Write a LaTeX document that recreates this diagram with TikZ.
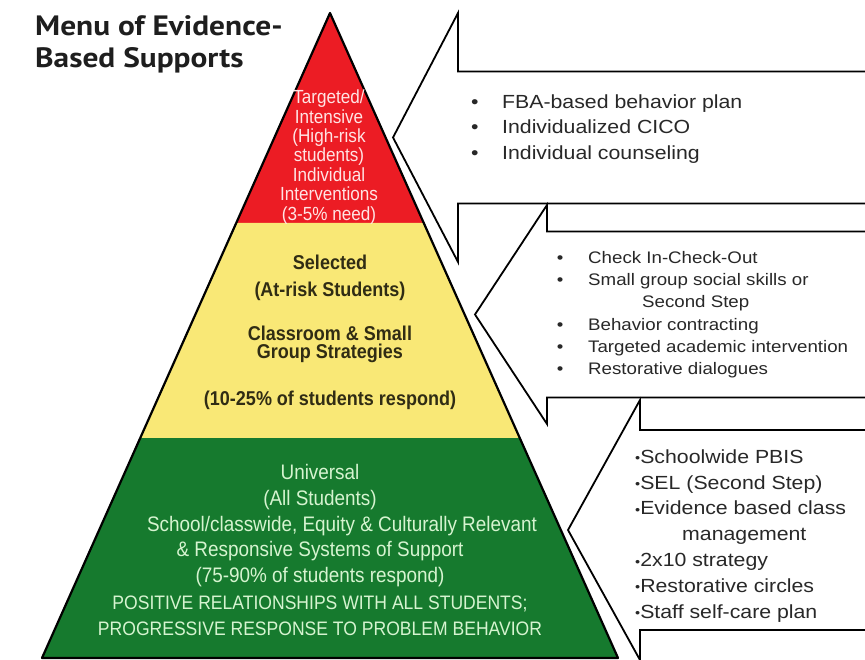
\documentclass[tikz,border=0pt]{standalone}
\usepackage{fontspec}
\newfontfamily\titlefont[FakeStretch=1.12]{PT Sans}
\newfontfamily\tierfont[FakeStretch=0.9]{Liberation Sans}
\newfontfamily\listfont[FakeStretch=1.12]{Liberation Sans}
\definecolor{tierred}{RGB}{236,28,36}
\definecolor{tieryellow}{RGB}{249,232,118}
\definecolor{tiergreen}{RGB}{22,122,46}
\definecolor{redink}{RGB}{255,228,228}
\definecolor{yellowink}{RGB}{48,44,20}
\definecolor{greenink}{RGB}{214,244,208}
\definecolor{listink}{RGB}{40,40,40}
\definecolor{titleink}{RGB}{30,30,30}
% left-pointing callout: tip (x,y), head base x : head half height : shaft half height
\def\callout(#1,#2)(#3:#4:#5){\draw[calloutline] (870,#2-#5) -- (#3,#2-#5) -- (#3,#2-#4) -- (#1,#2) -- (#3,#2+#4) -- (#3,#2+#5) -- (870,#2+#5);}
\def\smallbullet{{\fontsize{13}{13}\selectfont\raisebox{0.5pt}{•}}}
\tikzset{
  calloutline/.style={draw=black, fill=white, line width=1.8pt, line join=miter},
  tierlabel/.style={inner sep=0pt, align=center, anchor=base},
  listlabel/.style={inner sep=0pt, align=left, anchor=base west, text=listink},
}

\begin{document}
\begin{tikzpicture}[x=1pt,y=-1pt]
			%%%%% START %%%%%
			\useasboundingbox (0,0) rectangle (865,660);
			\fill[white] (0,0) rectangle (865,660);
			\clip (0,0) rectangle (865,660);
			
			% pyramid tiers
			\fill[tierred] (330,13) -- (423.77,223) -- (236.23,223) -- cycle;
			\fill[tieryellow] (236.23,223) -- (423.77,223) -- (519.77,438) -- (140.23,438) -- cycle;
			\fill[tiergreen] (140.23,438) -- (519.77,438) -- (618,658) -- (42,658) -- cycle;
			\draw[line width=2.2pt, line join=round] (330,13) -- (618,658) -- (42,658) -- cycle;
			
			% callouts
			\callout(393,137.5)(458:124.5:66)
			\callout(475,314.5)(547:109.5:83)
			\callout(568,530)(640:130:100)
			
			% (base anchor = last line)
			\node[font=\titlefont\bfseries\fontsize{28}{32}\selectfont, text=titleink, align=left, anchor=base west, inner sep=0pt] (menutitle) at (35,68) {Menu of Evidence-\\Based Supports};
			
			\node[tierlabel, text=redink, font=\tierfont\fontsize{19}{19.4}\selectfont] (targeted) at (329,220.2)
				{Targeted/\\Intensive\\(High-risk\\students)\\Individual\\Interventions\\(3-5\% need)};
			
			\node[tierlabel, text=yellowink, font=\tierfont\bfseries\fontsize{20}{27}\selectfont] (selected) at (330,297)
				{Selected\\(At-risk Students)};
			\node[tierlabel, text=yellowink, font=\tierfont\bfseries\fontsize{20}{18}\selectfont] (strategies) at (330,359)
				{Classroom \& Small\\Group Strategies};
			\node[tierlabel, text=yellowink, font=\tierfont\bfseries\fontsize{20}{24}\selectfont] (tenpct) at (330,405)
				{(10-25\% of students respond)};
			
			\node[tierlabel, text=greenink, font=\tierfont\fontsize{21}{25.8}\selectfont] (universal) at (320,582.7)
				{Universal\\(All Students)\\\hspace*{44pt}School/classwide, Equity \& Culturally Relevant\\\& Responsive Systems of Support\\(75-90\% of students respond)};
			\node[tierlabel, text=greenink, font=\tierfont\fontsize{19.5}{26}\selectfont] (relationships) at (320,635)
				{POSITIVE RELATIONSHIPS WITH ALL STUDENTS;\\PROGRESSIVE RESPONSE TO PROBLEM BEHAVIOR};
			
			\node[listlabel, font=\listfont\fontsize{19}{25.5}\selectfont] (intensivelist) at (471,159.5)
				{\makebox[31pt][l]{•}FBA-based behavior plan\\\makebox[31pt][l]{•}Individualized CICO\\\makebox[31pt][l]{•}Individual counseling};
			
			\node[listlabel, font=\listfont\fontsize{16.7}{22.3}\selectfont] (selectedlist) at (556.7,374.8)
				{\makebox[31.3pt][l]{•}Check In-Check-Out\\\makebox[31.3pt][l]{•}Small group social skills or\\\hspace*{85.3pt}Second Step\\\makebox[31.3pt][l]{•}Behavior contracting\\\makebox[31.3pt][l]{•}Targeted academic intervention\\\makebox[31.3pt][l]{•}Restorative dialogues};
			
			\node[listlabel, font=\listfont\fontsize{19}{25.8}\selectfont] (universallist) at (635,618.1)
				{\smallbullet Schoolwide PBIS\\\smallbullet SEL (Second Step)\\\smallbullet Evidence based class\\\hspace*{47pt}management\\\smallbullet 2x10 strategy\\\smallbullet Restorative circles\\\smallbullet Staff self-care plan};
			%%%%% END %%%%%
\end{tikzpicture}
\end{document}
